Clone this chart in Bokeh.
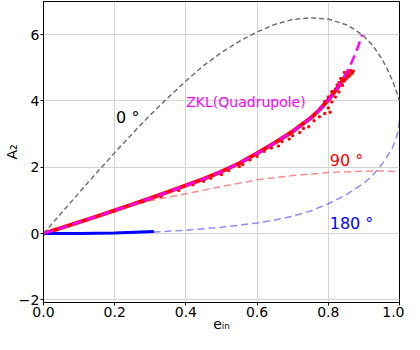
from bokeh.plotting import figure
from bokeh.models import FixedTicker, Label
from bokeh.embed import file_html
from bokeh.resources import INLINE

# ---- data ----
e_0deg = [0, 0.05, 0.1, 0.15, 0.2, 0.25, 0.3, 0.35, 0.4, 0.45, 0.5, 0.55, 0.6, 0.65, 0.7, 0.75, 0.8, 0.85, 0.875, 0.9, 0.925, 0.95, 0.965, 0.98, 0.99, 1.0]
A_0deg = [0, 0.62, 1.23, 1.84, 2.44, 3.02, 3.58, 4.10, 4.60, 5.07, 5.46, 5.80, 6.08, 6.31, 6.46, 6.51, 6.47, 6.30, 6.15, 5.95, 5.67, 5.28, 4.98, 4.62, 4.33, 4.00]

e_90deg = [0, 0.1, 0.2, 0.25, 0.3, 0.35, 0.4, 0.5, 0.6, 0.7, 0.8, 0.9, 0.95, 1.0]
A_90deg = [0, 0.36, 0.71, 0.87, 0.99, 1.10, 1.20, 1.42, 1.62, 1.75, 1.84, 1.88, 1.89, 1.87]

e_180deg = [0, 0.1, 0.2, 0.3, 0.4, 0.5, 0.55, 0.6, 0.65, 0.7, 0.75, 0.8, 0.85, 0.9, 0.925, 0.95, 0.97, 0.98, 0.99, 0.995, 1.0]
A_180deg = [0, 0.0, 0.01, 0.04, 0.10, 0.19, 0.25, 0.32, 0.41, 0.52, 0.68, 0.90, 1.17, 1.52, 1.76, 2.08, 2.40, 2.58, 2.85, 3.05, 3.42]

e_zkl = [0, 0.05, 0.1, 0.15, 0.2, 0.25, 0.3, 0.35, 0.4, 0.45, 0.5, 0.55, 0.6, 0.65, 0.7, 0.75, 0.775, 0.8, 0.825, 0.845, 0.86, 0.872, 0.885, 0.895]
A_zkl = [0, 0.17, 0.345, 0.52, 0.70, 0.88, 1.065, 1.255, 1.45, 1.65, 1.87, 2.12, 2.42, 2.74, 3.08, 3.48, 3.73, 4.03, 4.38, 4.72, 5.02, 5.33, 5.68, 6.00]

e_blue_sim = [0, 0.1, 0.2, 0.31]
A_blue_sim = [0, 0.005, 0.02, 0.06]

e_red_core = [0, 0.05, 0.1, 0.15, 0.2, 0.25, 0.3, 0.35, 0.4, 0.45, 0.5, 0.55, 0.6, 0.65, 0.7, 0.75, 0.775, 0.8, 0.825, 0.845, 0.857]
A_red_core = [0, 0.17, 0.345, 0.52, 0.70, 0.88, 1.065, 1.255, 1.45, 1.65, 1.87, 2.12, 2.42, 2.74, 3.08, 3.48, 3.73, 4.03, 4.38, 4.70, 4.90]

e_red_pts = [0.20, 0.28, 0.33, 0.38, 0.42, 0.45, 0.47, 0.50, 0.52, 0.55, 0.56, 0.58, 0.60, 0.62, 0.64, 0.66, 0.67,
             0.69, 0.70, 0.72, 0.73, 0.745, 0.76, 0.76, 0.775, 0.78, 0.79, 0.80, 0.805, 0.81, 0.815, 0.82, 0.825,
             0.83, 0.835, 0.84, 0.845, 0.845, 0.85, 0.855, 0.86, 0.865, 0.87, 0.79, 0.80, 0.81, 0.82, 0.83, 0.84,
             0.85, 0.855, 0.862, 0.868]
A_red_pts = [0.68, 0.96, 1.12, 1.30, 1.47, 1.58, 1.67, 1.78, 1.90, 2.02, 2.08, 2.22, 2.33, 2.48, 2.58, 2.64, 2.77,
             2.85, 2.95, 3.05, 3.17, 3.22, 3.40, 3.55, 3.52, 3.80, 3.62, 3.79, 3.66, 3.97, 4.28, 4.12, 4.48,
             4.27, 4.68, 4.47, 4.60, 4.86, 4.66, 4.84, 4.76, 4.82, 4.90, 3.98, 4.12, 4.28, 4.36, 4.55, 4.62,
             4.80, 4.72, 4.92, 4.86]

x_ticks = [0.0, 0.2, 0.4, 0.6, 0.8, 1.0]
y_ticks = [-2, 0, 2, 4, 6]

FONT = "DejaVu Sans"

p = figure(width=404, height=334, x_range=(0, 1), y_range=(-2.08, 7.0),
           output_backend="svg", toolbar_location=None,
           min_border_left=0, min_border_right=5, min_border_top=1, min_border_bottom=0)

p.line(e_red_core, A_red_core, color="red", line_width=4)
p.scatter(e_red_pts, A_red_pts, marker="square", size=2, color="red")
p.line(e_0deg, A_0deg, color="#707070", line_width=1.5, line_dash="5 3")
p.line(e_90deg, A_90deg, color="red", alpha=0.45, line_width=1.5, line_dash="7 4")
p.line(e_180deg, A_180deg, color="blue", alpha=0.45, line_width=1.5, line_dash="7 4")
p.line(e_blue_sim, A_blue_sim, color="blue", line_width=3)
p.line(e_zkl, A_zkl, color="magenta", line_width=2.5, line_dash="10 5")

for txt, x, y, col, fs in [("0 °", 0.204, 3.5, "black", "16px"),
                           ("ZKL(Quadrupole)", 0.401, 3.96, "magenta", "14px"),
                           ("90 °", 0.804, 2.21, "red", "16px"),
                           ("180 °", 0.804, 0.29, "blue", "16px")]:
    p.add_layout(Label(x=x, y=y, text=txt, text_color=col, text_font=FONT,
                       text_font_size=fs, text_baseline="alphabetic"))

p.xaxis.ticker = FixedTicker(ticks=x_ticks)
p.yaxis.ticker = FixedTicker(ticks=y_ticks)
p.xaxis.major_label_overrides = {t: f"{t:.1f}" for t in x_ticks}
p.yaxis.major_label_overrides = {t: (f"−{-t}" if t < 0 else str(t)) for t in y_ticks}
p.xaxis.axis_label = "eᵢₙ"
p.yaxis.axis_label = "A₂"
for ax in (p.xaxis, p.yaxis):
    ax.axis_label_text_font = FONT
    ax.axis_label_text_font_size = "14px"
    ax.axis_label_text_font_style = "normal"
    ax.axis_label_text_color = "black"
    ax.axis_label_standoff = -4
    ax.major_label_text_font = FONT
    ax.major_label_text_font_size = "14px"
    ax.major_label_text_color = "black"
    ax.major_label_standoff = 1
    ax.major_tick_in = 0
    ax.major_tick_out = 3
    ax.minor_tick_out = 0
    ax.minor_tick_in = 0
    ax.axis_line_color = "black"
    ax.major_tick_line_color = "black"

p.grid.grid_line_color = "#d4d4d4"
p.outline_line_color = "black"
p.outline_line_alpha = 1.0

open("out.html", "w").write(file_html(p, INLINE))
